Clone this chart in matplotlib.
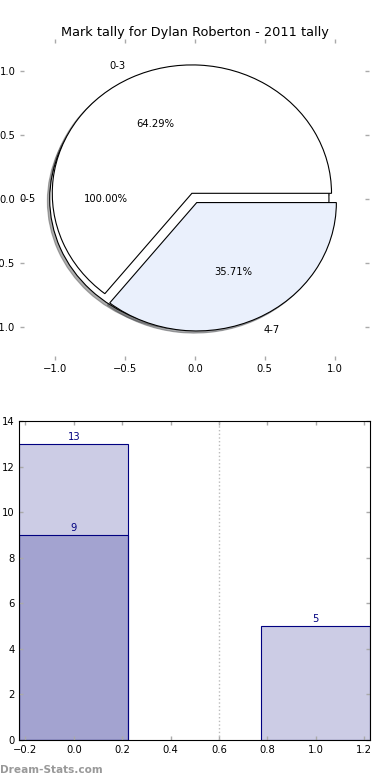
import matplotlib
matplotlib.use("Agg")
import matplotlib.pyplot as plt

# ---- data ----
title = "Mark tally for Dylan Roberton - 2011 tally"

outer_labels = ["0-5"]
outer_values = [14]
outer_explode = [0.04]

inner_labels = ["0-3", "4-7"]
inner_values = [9, 5]
inner_explode = [0.05, 0.03]
inner_colors = ["white", "#eaf0fc"]

bar_x = [0, 1]
bar_totals = [13, 5]
bar_sub_x = [0]
bar_sub = [9]
pie_ticks = [-1.0, -0.5, 0.0, 0.5, 1.0]
bar_yticks = [0, 2, 4, 6, 8, 10, 12, 14]
bar_xticks = [-0.2, 0.0, 0.2, 0.4, 0.6, 0.8, 1.0, 1.2]

plt.rcParams["font.family"] = ["DejaVu Sans"]

fig = plt.figure(figsize=(3.9, 7.8), dpi=100)
ax1 = fig.add_axes([0.0523, 0.539, 0.895, 0.4115])
ax2 = fig.add_axes([0.0495, 0.0513, 0.9, 0.4086])

wedge_kw = {"edgecolor": "black", "linewidth": 0.8}
shadow_kw = {"ox": -0.012, "oy": -0.012, "alpha": 0.45}
fs = 7.2

# pie: the full range first, split ranges on top
ax1.pie(outer_values, labels=outer_labels, explode=outer_explode,
        colors=["white"], autopct="%.2f%%", shadow=shadow_kw,
        wedgeprops=wedge_kw, textprops={"fontsize": fs})
ax1.pie(inner_values, labels=inner_labels, explode=inner_explode,
        colors=inner_colors, autopct="%.2f%%", shadow=shadow_kw,
        wedgeprops=wedge_kw, textprops={"fontsize": fs})

ax1.set_aspect("auto")
ax1.set_xlim(-1.25, 1.25)
ax1.set_ylim(-1.25, 1.25)
ax1.set_xticks(pie_ticks)
ax1.set_yticks(pie_ticks)
ax1.set_frame_on(False)
ax1.set_title(title, fontsize=9.3, pad=2)

# bars: totals and sub-count overlaid
bar_face = (0, 0, 0.5, 0.2)
ax2.bar(bar_x, bar_totals, width=0.45, color=bar_face, edgecolor="navy", linewidth=0.8)
ax2.bar(bar_sub_x, bar_sub, width=0.45, color=bar_face, edgecolor="navy", linewidth=0.8)
for x, h in zip(bar_x, bar_totals):
    ax2.text(x, h + 0.08, str(h), ha="center", va="bottom", color="navy", fontsize=fs)
for x, h in zip(bar_sub_x, bar_sub):
    ax2.text(x, h + 0.08, str(h), ha="center", va="bottom", color="navy", fontsize=fs)

ax2.axvline(0.6, color="#bbbbbb", linestyle=":", linewidth=1)
ax2.set_xlim(-0.225, 1.225)
ax2.set_ylim(0, 14)
ax2.set_xticks(bar_xticks)
ax2.set_yticks(bar_yticks)

for ax in (ax1, ax2):
    ax.tick_params(direction="in", length=3, width=1, color="#aaaaaa",
                   top=True, right=True, labelsize=fs, pad=3.5)

fig.text(0.0, 0.006, "Dream-Stats.com", color="#999999", fontsize=7.6,
         fontweight="bold", ha="left", va="bottom")

fig.savefig("out.png", dpi=100)
